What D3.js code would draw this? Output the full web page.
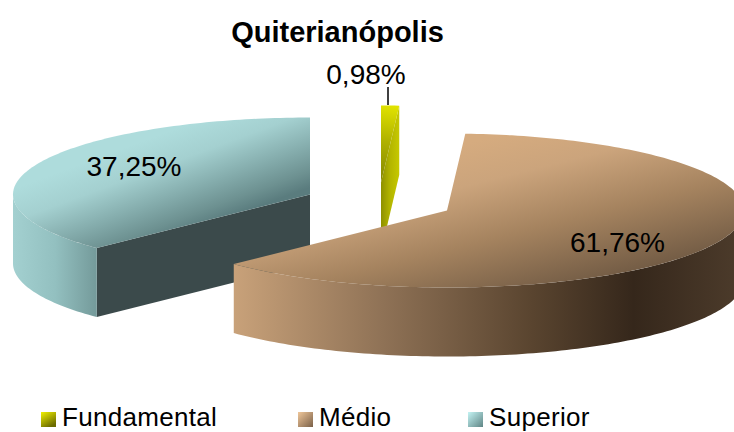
<!DOCTYPE html>
<html>
<head>
<meta charset="utf-8">
<script src="https://cdn.jsdelivr.net/npm/d3@7"></script>
<style>
html,body{margin:0;padding:0;background:#fff}
svg{display:block}
text{font-family:"Liberation Sans",Arial,sans-serif;fill:#000}
</style>
</head>
<body>
<svg id="c" width="734" height="432"></svg>
<script>
const titleText = "Quiterianópolis";
const categories = ["Fundamental", "Médio", "Superior"];
const values = [0.98, 61.76, 37.25];
const valueLabels = ["0,98%", "61,76%", "37,25%"];

const svg = d3.select("#c");
const defs = svg.append("defs");
function grad(id, x1, y1, x2, y2, stops, units) {
  const g = defs.append("linearGradient").attr("id", id)
    .attr("x1", x1).attr("y1", y1).attr("x2", x2).attr("y2", y2)
    .attr("gradientUnits", units || "userSpaceOnUse");
  stops.forEach(s => g.append("stop").attr("offset", s[0]).attr("stop-color", s[1]));
}
grad("fTop", 392, 105, 381, 185, [[0, "#e2e400"], [0.45, "#b0b200"], [1, "#808200"]]);
grad("fSide", 381, 0, 400, 0, [[0, "#8e9000"], [0.5, "#b4b600"], [1, "#c8ca00"]]);
grad("mTop", 480, 140, 520, 300, [[0, "#d5ab7f"], [0.25, "#cba47c"], [0.6, "#a5835f"], [1, "#735c45"]]);
grad("mSide", 232, 0, 734, 0, [[0, "#c9a27a"], [0.3, "#8f7256"], [0.6, "#59442f"], [0.8, "#35271b"], [1, "#4b3a2a"]]);
grad("sTop", 200, 120, 235, 215, [[0, "#aedcdc"], [0.3, "#a4d0d0"], [0.6, "#86aeae"], [0.85, "#6d9191"], [1, "#5a7c7e"]]);
grad("sSide", 13, 0, 97, 0, [[0, "#a3d0d0"], [0.5, "#93c0c0"], [1, "#749a9a"]]);
grad("lF", 0, 0, 0.6, 1, [[0, "#f2f200"], [1, "#6b6b00"]], "objectBoundingBox");
grad("lM", 0, 0, 1, 1, [[0, "#f0c79a"], [1, "#7a6048"]], "objectBoundingBox");
grad("lS", 0, 0, 1, 1, [[0, "#c4f4f4"], [1, "#5f8585"]], "objectBoundingBox");

// pie layout through D3; angles drive every slice
const pie = d3.pie().sort(null).value(d => d);
const arcs = pie(values);
const rx = 297, ry = 77, depth = 69;
const sliceCentres = [[381, 182.5], [447, 210.5], [310, 194.5]];
const topFills = ["url(#fTop)", "url(#mTop)", "url(#sTop)"];
const sideFills = ["url(#fSide)", "url(#mSide)", "url(#sSide)"];
const faceFills = ["#b6b800", null, "#3b4a4b"];

function pt(c, a, dy) { return [c[0] + rx * Math.sin(a), c[1] - ry * Math.cos(a) + (dy || 0)]; }
function samples(a0, a1) {
  const n = Math.max(2, Math.ceil(Math.abs(a1 - a0) / 0.02));
  return d3.range(n + 1).map(i => a0 + (a1 - a0) * i / n);
}
const line = d3.line();
function topPath(c, a0, a1) { return line([c, ...samples(a0, a1).map(a => pt(c, a))]) + "Z"; }
function sidePath(c, a0, a1) {
  const s = samples(a0, a1);
  return line([...s.map(a => pt(c, a)), ...s.slice().reverse().map(a => pt(c, a, depth))]) + "Z";
}
function facePath(c, a) {
  const p = pt(c, a);
  return line([c, p, [p[0], p[1] + depth], [c[0], c[1] + depth]]) + "Z";
}

const order = [2, 0, 1];
order.forEach(i => {
  const d = arcs[i], c = sliceCentres[i], g = svg.append("g");
  const a0 = d.startAngle, a1 = d.endAngle;
  // radial faces turned towards the viewer
  if (i === 2) g.append("path").attr("d", facePath(c, a0)).attr("fill", faceFills[i]);
  if (i === 0) g.append("path").attr("d", facePath(c, a1)).attr("fill", "url(#fSide)");
  // outer wall: visible only on the front half of the ellipse
  const wall0 = Math.max(a0, Math.PI / 2), wall1 = Math.min(a1, 3 * Math.PI / 2);
  if (wall1 > wall0) g.append("path").attr("d", sidePath(c, wall0, wall1)).attr("fill", sideFills[i]);
  g.append("path").attr("d", topPath(c, a0, a1)).attr("fill", topFills[i]);
});

// title
svg.append("text").attr("x", 337.5).attr("y", 42).attr("text-anchor", "middle")
  .attr("font-size", 29).attr("font-weight", "bold").text(titleText);

// data labels
svg.append("line").attr("x1", 388).attr("x2", 388).attr("y1", 87).attr("y2", 105)
  .attr("stroke", "#000").attr("stroke-width", 1.5);
const labelPos = [[366, 84], [617.5, 252], [134, 176]];
valueLabels.forEach((t, i) => svg.append("text").attr("x", labelPos[i][0]).attr("y", labelPos[i][1])
  .attr("text-anchor", "middle").attr("font-size", 28).text(t));

// legend
const legendX = [41, 298, 468];
const legendFill = ["url(#lF)", "url(#lM)", "url(#lS)"];
categories.forEach((t, i) => {
  svg.append("rect").attr("x", legendX[i]).attr("y", 412).attr("width", 15).attr("height", 15)
    .attr("fill", legendFill[i]);
  svg.append("text").attr("x", legendX[i] + 21).attr("y", 426.4).attr("font-size", 26)
    .attr("letter-spacing", 0.3).text(t);
});
</script>
</body>
</html>
